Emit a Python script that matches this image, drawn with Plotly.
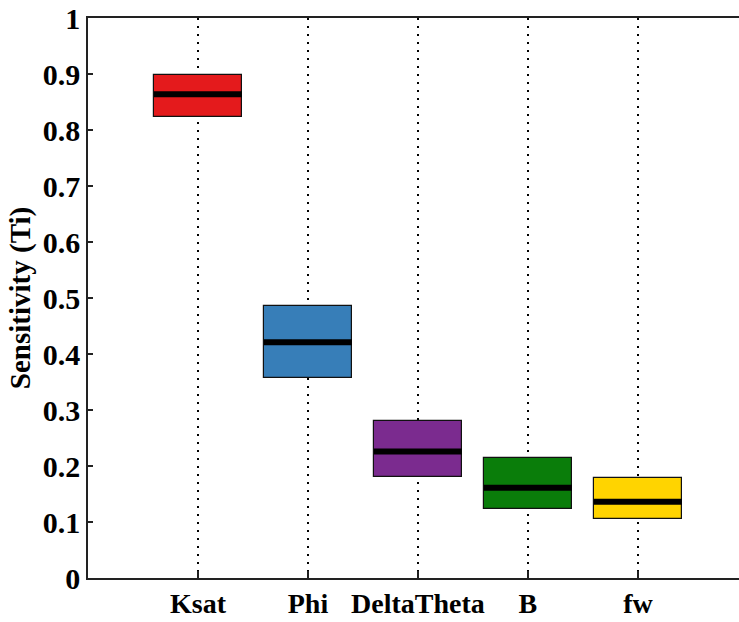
import plotly.graph_objects as go

# Sensitivity (total-order index) per parameter: quartiles and median
params = ["Ksat", "Phi", "DeltaTheta", "B", "fw"]
q1 = [0.824, 0.358, 0.181, 0.123, 0.105]
median = [0.864, 0.421, 0.226, 0.161, 0.136]
q3 = [0.898, 0.486, 0.280, 0.214, 0.178]
colors = ["#e41a1c", "#377eb8", "#7b2b8f", "#0a7d0a", "#ffd400"]

pos = list(range(1, len(params) + 1))
half = 0.4

fig = go.Figure()

# Interquartile boxes as floating bars
fig.add_trace(go.Bar(
    x=pos,
    y=[b - a for a, b in zip(q1, q3)],
    base=q1,
    width=2 * half,
    marker=dict(color=colors, line=dict(color="#111111", width=1.2)),
    showlegend=False,
    hoverinfo="skip",
))

# Thick median bars
mx, my = [], []
for p, m in zip(pos, median):
    mx += [p - half, p + half, None]
    my += [m, m, None]
fig.add_trace(go.Scatter(
    x=mx, y=my, mode="lines",
    line=dict(color="black", width=6),
    showlegend=False, hoverinfo="skip",
))

font = dict(family="Liberation Serif", size=28, color="black")

# The axes box runs past the right edge of the page
fig.update_layout(
    width=760, height=622,
    margin=dict(l=88, r=0, t=18, b=44, autoexpand=False),
    paper_bgcolor="white", plot_bgcolor="white",
    font=font,
    bargap=0,
)
fig.update_xaxes(
    range=[0, 6.11],
    tickvals=pos, ticktext=[f"<b>{p}</b>" for p in params],
    showgrid=True, gridcolor="black", gridwidth=1.5, griddash="1.5px,6.5px",
    showline=True, linecolor="#222222", linewidth=1.5, mirror=True,
    ticks="inside", ticklen=7, tickcolor="#222222", tickwidth=1.5,
    zeroline=False, tickfont=dict(size=28),
)
fig.update_yaxes(
    range=[0, 1],
    tickvals=[i / 10 for i in range(11)],
    ticktext=["<b>0</b>"] + [f"<b>0.{i}</b>" for i in range(1, 10)] + ["<b>1</b>"],
    showgrid=False, zeroline=False,
    showline=True, linecolor="#222222", linewidth=1.5,
    ticks="inside", ticklen=5, tickcolor="#222222", tickwidth=1.5,
    tickfont=dict(size=30),
    title=dict(text="<b>Sensitivity (Ti)</b>", font=dict(size=29), standoff=4),
)

fig.write_html(
    "out.html",
    post_script="document.documentElement.style.overflow='hidden';"
                "document.body.style.overflow='hidden';"
                "document.body.style.margin='0';",
)
